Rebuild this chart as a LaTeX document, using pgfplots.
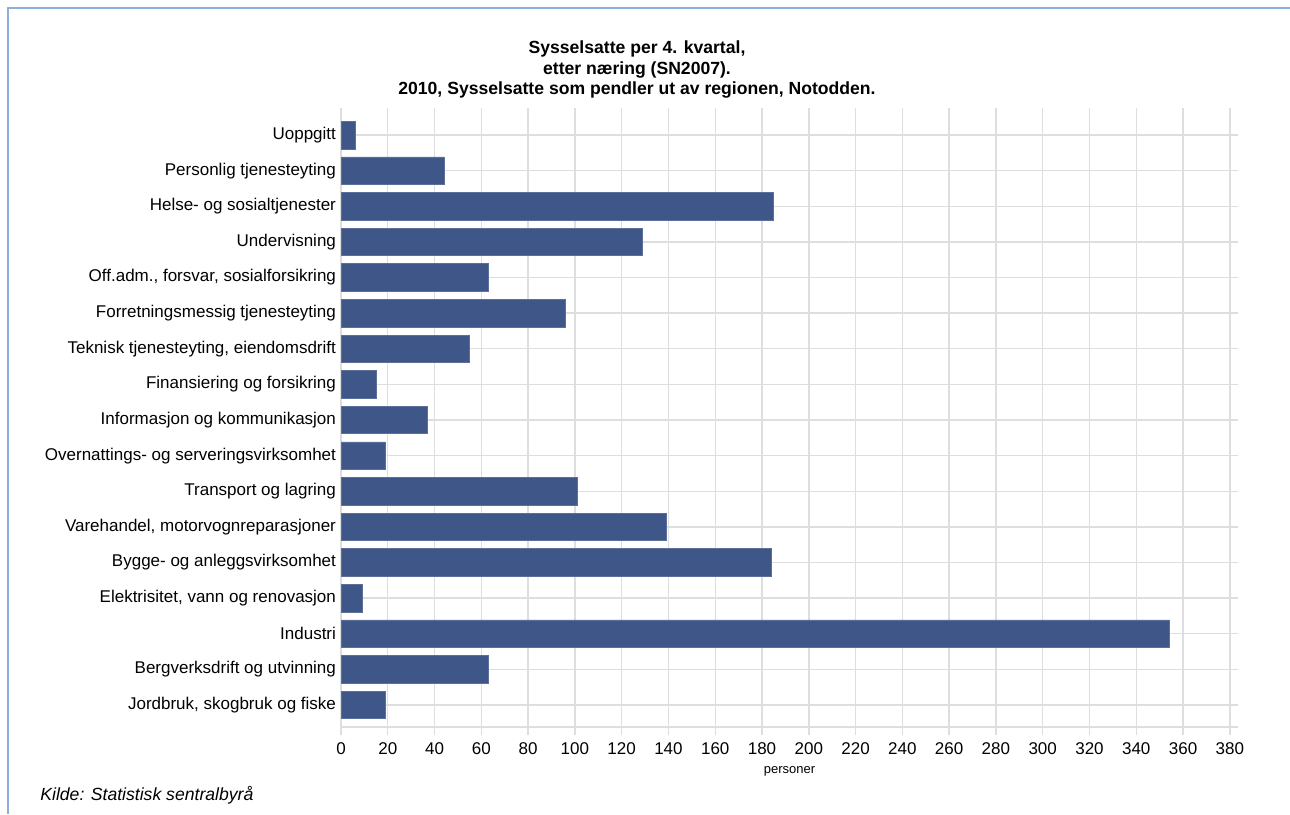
\documentclass[border=0pt]{standalone}
\usepackage{pgfplots}
\pgfplotsset{compat=1.18}
\usepackage{fontspec}
\setmainfont{Liberation Sans}
\definecolor{barblue}{RGB}{62,86,136}
\definecolor{gridgray}{RGB}{222,222,222}
\definecolor{edgeblue}{RGB}{140,175,225}
\begin{document}
\begin{tikzpicture}
\useasboundingbox (0,0) rectangle (645pt,407pt);
\draw[edgeblue, line width=0.6pt] (4pt,0) -- (4pt,403pt) -- (645pt,403pt);
\node[align=center, font=\fontsize{8.8}{10.3}\selectfont\bfseries] at (318.5pt,372.2pt)
  {Sysselsatte per 4. kvartal,\\etter næring (SN2007).\\2010, Sysselsatte som pendler ut av regionen, Notodden.};
\node[anchor=west, inner sep=0pt, font=\fontsize{8.8}{10}\selectfont\itshape] at (20pt,9.5pt) {Kilde: Statistisk sentralbyrå};
\begin{axis}[
  at={(170.5pt,43.5pt)}, anchor=south west,
  scale only axis, width=448.5pt, height=309.5pt,
  xbar, bar width=13.75pt,
  xmin=0, xmax=383.5, ymin=-0.62, ymax=16.76,
  xtick={0,20,...,380},
  ytick={0,...,16},
  yticklabels={
    {Jordbruk, skogbruk og fiske},
    {Bergverksdrift og utvinning},
    {Industri},
    {Elektrisitet, vann og renovasjon},
    {Bygge- og anleggsvirksomhet},
    {Varehandel, motorvognreparasjoner},
    {Transport og lagring},
    {Overnattings- og serveringsvirksomhet},
    {Informasjon og kommunikasjon},
    {Finansiering og forsikring},
    {Teknisk tjenesteyting, eiendomsdrift},
    {Forretningsmessig tjenesteyting},
    {Off.adm., forsvar, sosialforsikring},
    {Undervisning},
    {Helse- og sosialtjenester},
    {Personlig tjenesteyting},
    {Uoppgitt}},
  grid=major,
  major grid style={gridgray, line width=0.7pt},
  axis line style={gridgray, line width=0.7pt},
  axis x line*=bottom, axis y line*=left,
  x axis line style={-}, y axis line style={-},
  tick align=outside,
  xtick style={gridgray, line width=0.7pt},
  major tick length=4pt,
  ytick style={draw=none},
  tick label style={font=\fontsize{8.5}{10}\selectfont},
  yticklabel style={xshift=5pt},
  xticklabel style={yshift=-0.5pt},
  /pgf/number format/assume math mode=true,
  xlabel={personer},
  xlabel style={font=\fontsize{6.5}{8}\selectfont, yshift=1pt},
  clip=false,
]
\addplot[fill=barblue, draw=barblue!85!white, line width=0.3pt] coordinates {
  (19,0) (63,1) (354,2) (9,3) (184,4) (139,5) (101,6) (19,7) (37,8)
  (15,9) (55,10) (96,11) (63,12) (129,13) (185,14) (44,15) (6,16)
};
\end{axis}
\end{tikzpicture}
\end{document}
